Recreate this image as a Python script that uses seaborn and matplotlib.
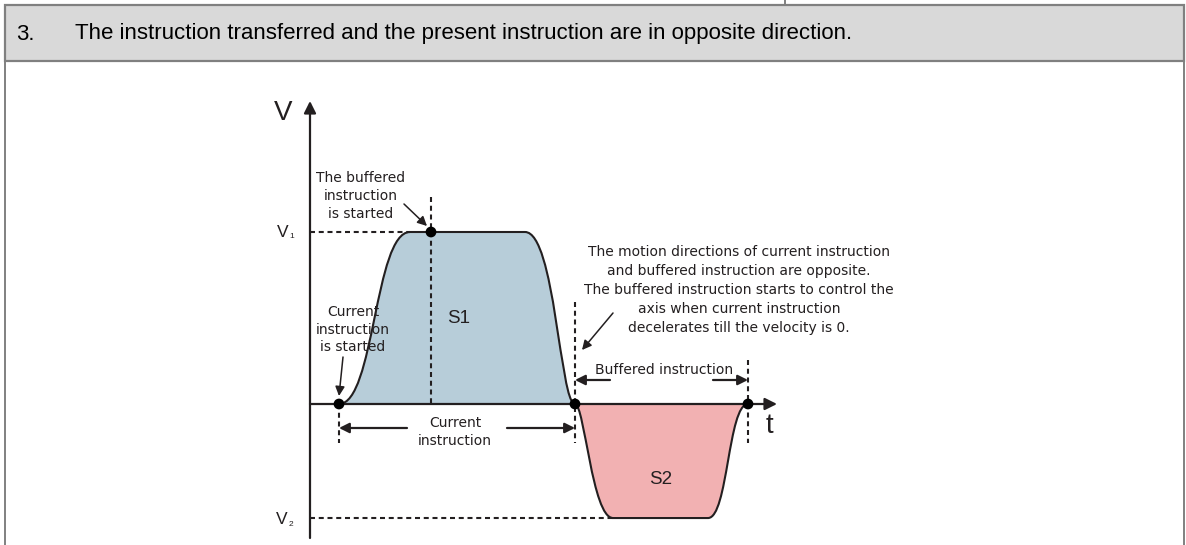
import numpy as np
import pandas as pd
import seaborn as sns
import matplotlib.pyplot as plt
from matplotlib.path import Path
from matplotlib.patches import PathPatch, Rectangle
from matplotlib.lines import Line2D

# velocity profile knots (t in diagram units, v relative to V1)
t_start = 2.9      # current instruction starts
t_v1 = 10.0        # reaches V1
t_buf = 12.1       # buffered instruction is started
t_dec = 21.5       # current instruction starts decelerating
t_zero = 26.5      # velocity back to 0, buffered takes over
t_v2 = 30.3        # reaches V2
t_v2_end = 39.8    # leaves V2
t_end = 43.8       # buffered instruction ends
V1 = 1.0
V2 = -0.663

header_num = "3."
header_text = "The instruction transferred and the present instruction are in opposite direction."
note_lines = ["The motion directions of current instruction",
              "and buffered instruction are opposite.",
              "The buffered instruction starts to control the",
              "axis when current instruction",
              "decelerates till the velocity is 0."]
buf_start_lines = ["The buffered", "instruction", "is started"]
cur_start_lines = ["Current", "instruction", "is started"]

sns.set_style("white")
plt.rcParams['font.family'] = ['Liberation Sans', 'DejaVu Sans']

W, H = 1186, 545
fig = plt.figure(figsize=(W / 100, H / 100), dpi=100)
ax = fig.add_axes([0, 0, 1, 1])
ax.set_xlim((0 - 310) / 10, (W - 310) / 10)
ax.set_ylim((404 - H) / 172, 404 / 172)
ax.axis('off')

INK = '#231f20'
GRID = '#808080'


def px(x, y):
    # layout helper: picture pixels -> diagram units
    return (x - 310) / 10, (404 - y) / 172


def fx(x, y):
    return x / W, 1 - y / H


# table frame and header band
x0, y0 = fx(5, 61)
x1, y1 = fx(1184, 5)
ax.add_patch(Rectangle((x0, y0), x1 - x0, y1 - y0, transform=ax.transAxes,
                       facecolor='#d9d9d9', edgecolor=GRID, lw=1.6, zorder=1))
for (a, b), (c, d) in [(fx(5, 5), fx(5, 545)), (fx(1184, 5), fx(1184, 545)),
                       (fx(785, 0), fx(785, 5))]:
    ax.add_line(Line2D([a, c], [b, d], transform=ax.transAxes, color=GRID, lw=1.4))
ax.text(*fx(16, 34), header_num, transform=ax.transAxes, fontsize=16,
        va='center', ha='left', color='black')
ax.text(*fx(75, 34), header_text, transform=ax.transAxes, fontsize=16,
        va='center', ha='left', color='black')


def bez(p0, p1, k1=0.5, k2=0.5):
    (ta, va), (tb, vb) = p0, p1
    d = tb - ta
    return [(ta + k1 * d, va), (tb - k2 * d, vb), (tb, vb)]


def profile(knots):
    verts = [knots[0]]
    codes = [Path.MOVETO]
    for seg in knots[1:]:
        if seg[0] == 'L':
            verts.append(seg[1])
            codes.append(Path.LINETO)
        else:
            _, a, b, k1, k2 = seg
            verts += bez(a, b, k1, k2)
            codes += [Path.CURVE4] * 3
    return Path(verts, codes)


s1 = profile([(t_start, 0),
              ('C', (t_start, 0), (t_v1, V1), 0.5, 0.5),
              ('L', (t_dec, V1)),
              ('C', (t_dec, V1), (t_zero, 0), 0.6, 0.3)])
s2 = profile([(t_zero, 0),
              ('C', (t_zero, 0), (t_v2, V2), 0.25, 0.55),
              ('L', (t_v2_end, V2)),
              ('C', (t_v2_end, V2), (t_end, 0), 0.5, 0.5)])
ax.add_patch(PathPatch(s1, facecolor='#b7cdd9', edgecolor='none', zorder=2))
ax.add_patch(PathPatch(s2, facecolor='#f2b1b2', edgecolor='none', zorder=2))
ax.add_patch(PathPatch(s1, facecolor='none', edgecolor=INK, lw=1.5, zorder=3))
ax.add_patch(PathPatch(s2, facecolor='none', edgecolor=INK, lw=1.5, zorder=3))

# axes with arrows
arrow_kw = dict(arrowstyle='-|>', color=INK, lw=1.6, mutation_scale=18,
                shrinkA=0, shrinkB=0)
ax.annotate('', xy=px(310, 101), xytext=px(310, 538), arrowprops=arrow_kw, zorder=4)
ax.annotate('', xy=px(777, 404), xytext=(0, 0), arrowprops=arrow_kw, zorder=4)
ax.text(*px(283, 113), 'V', fontsize=20, ha='center', va='center', color=INK)
ax.text(*px(769, 426), 't', fontsize=20, ha='center', va='center', color=INK)
ax.text(*px(283, 232), 'V', fontsize=12.5, ha='center', va='center', color=INK)
ax.text(*px(292, 236), '1', fontsize=6, ha='center', va='center', color=INK)
ax.text(*px(282, 520), 'V', fontsize=12.5, ha='center', va='center', color=INK)
ax.text(*px(291, 524), '2', fontsize=6, ha='center', va='center', color=INK)

# dashed guides
dash = dict(color=INK, lw=1.5, ls=(0, (2.4, 1.8)), zorder=3)
ax.plot([0, t_v1], [V1, V1], **dash)
ax.plot([0, t_v2], [V2, V2], **dash)
ax.plot([t_buf, t_buf], [px(0, 197)[1], 0], **dash)
ax.plot([t_start, t_start], [0, px(0, 443)[1]], **dash)
ax.plot([t_zero, t_zero], [px(0, 302)[1], px(0, 443)[1]], **dash)
ax.plot([t_end, t_end], [px(0, 360)[1], px(0, 443)[1]], **dash)

# key points
pts = pd.DataFrame({'t': [t_start, t_buf, t_zero, t_end], 'v': [0, V1, 0, 0]})
sns.scatterplot(data=pts, x='t', y='v', ax=ax, color='black', s=60,
                edgecolor='none', zorder=6, legend=False)

# dimension arrows
dim_kw = dict(arrowstyle='-|>', color=INK, lw=1.6, mutation_scale=15,
              shrinkA=0, shrinkB=0)
v_cur = px(0, 428)[1]
ax.annotate('', xy=(t_start, v_cur), xytext=(px(407, 0)[0], v_cur), arrowprops=dim_kw)
ax.annotate('', xy=(t_zero, v_cur), xytext=(px(507, 0)[0], v_cur), arrowprops=dim_kw)
v_buf = px(0, 380)[1]
ax.annotate('', xy=(t_zero, v_buf), xytext=(px(610, 0)[0], v_buf), arrowprops=dim_kw)
ax.annotate('', xy=(t_end, v_buf), xytext=(px(713, 0)[0], v_buf), arrowprops=dim_kw)

txt = dict(fontsize=10, ha='center', va='center', color=INK,
           family=['DejaVu Sans'])
ax.text(*px(455, 423), 'Current', **txt)
ax.text(*px(455, 441), 'instruction', **txt)
ax.text(*px(664, 370), 'Buffered instruction', **txt)
for i, line in enumerate(buf_start_lines):
    ax.text(*px(361, 178 + 18 * i), line, **txt)
for i, line in enumerate(cur_start_lines):
    ax.text(*px(353, 312 + 17.5 * i), line, **txt)
for i, line in enumerate(note_lines):
    ax.text(*px(739, 252 + 19 * i), line, **txt)

ax.text(*px(459, 318), 'S1', fontsize=13.5, ha='center', va='center', color=INK)
ax.text(*px(661, 480), 'S2', fontsize=13.5, ha='center', va='center', color=INK)

# pointer arrows
ptr_kw = dict(arrowstyle='-|>', color=INK, lw=1.1, mutation_scale=14,
              shrinkA=0, shrinkB=0)
ax.annotate('', xy=px(427, 226), xytext=px(404, 204), arrowprops=ptr_kw)
ax.annotate('', xy=px(339, 396), xytext=px(343, 357), arrowprops=ptr_kw)
ax.annotate('', xy=px(582, 350), xytext=px(613, 313), arrowprops=ptr_kw)

fig.savefig('out.png', dpi=100)
